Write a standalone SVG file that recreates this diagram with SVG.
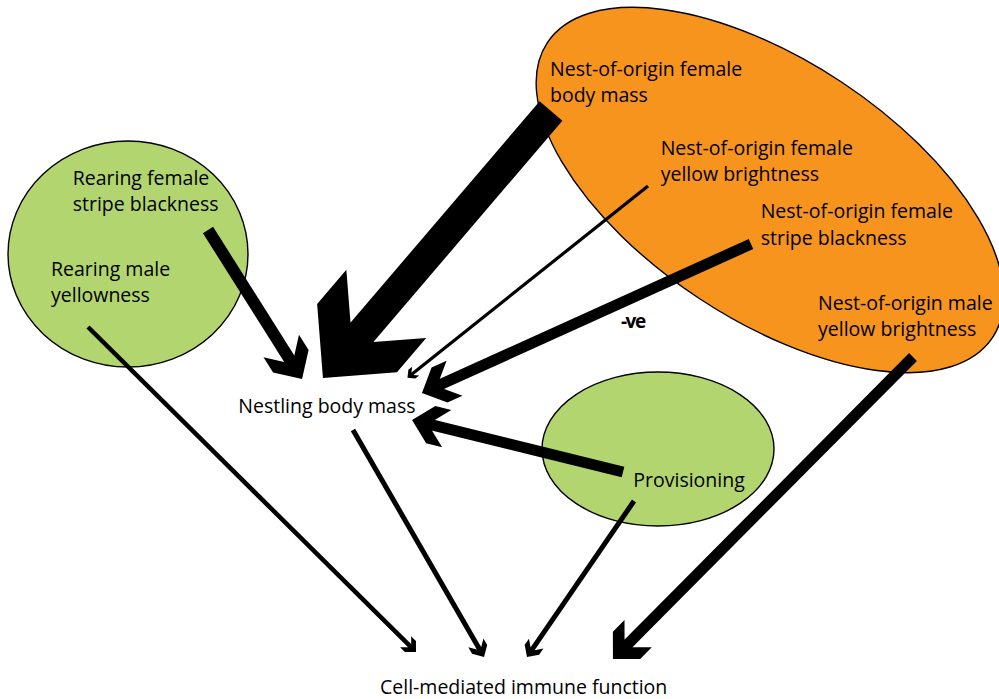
<svg xmlns="http://www.w3.org/2000/svg" width="999" height="699" viewBox="0 0 999 699">
<style>
.bg{fill:#ffffff}
.green{fill:#b3d56f;stroke:#000;stroke-width:1.4}
.orange{fill:#f7941e;stroke:#000;stroke-width:1.4}
.lbl{font-family:"Open Sans","Liberation Sans",sans-serif;font-size:19.5px;fill:#000}
.neg{font-family:"Open Sans","Liberation Sans",sans-serif;font-size:19px;font-weight:bold;fill:#000;letter-spacing:-1.5px}
.arr{fill:none;stroke:#000;stroke-linecap:butt;marker-end:url(#ah)}
</style>
<defs>
<marker id="ah" markerUnits="strokeWidth" orient="auto" refX="1.4" refY="0" markerWidth="4" markerHeight="4" overflow="visible">
<path d="M3.25,0 L1.5,-1.75 L0,-1.75 L1.25,-0.5 L1.25,0.5 L0,1.75 L1.5,1.75 Z" fill="#000"/>
</marker>
</defs>
<rect class="bg" x="0" y="0" width="999" height="699"/>
<g id="node-rearing">
<ellipse class="green" cx="128" cy="254" rx="120" ry="113"/>
</g>
<g id="node-nest-of-origin">
<ellipse class="orange" cx="770" cy="190" rx="267" ry="129.5" transform="rotate(33.5 770 190)"/>
</g>
<g id="node-provisioning">
<ellipse class="green" cx="658" cy="449" rx="116" ry="77"/>
</g>
<g id="connectors">
<line class="arr" style="stroke-width:30" x1="551" y1="111" x2="359.0" y2="335.8"/>
<line class="arr" style="stroke-width:12" x1="208" y1="230" x2="290.2" y2="360.2"/>
<line class="arr" style="stroke-width:3.2" x1="648" y1="186" x2="412.1" y2="374.0"/>
<line class="arr" style="stroke-width:11" x1="751" y1="244" x2="440.5" y2="384.6"/>
<line class="arr" style="stroke-width:11" x1="623" y1="472" x2="431.8" y2="424.9"/>
<line class="arr" style="stroke-width:11" x1="913" y1="357" x2="627.3" y2="644.6"/>
<line class="arr" style="stroke-width:4.5" x1="88" y1="327" x2="410.1" y2="646.2"/>
<line class="arr" style="stroke-width:5" x1="353" y1="430" x2="479.4" y2="649.0"/>
<line class="arr" style="stroke-width:5" x1="634" y1="501" x2="532.2" y2="649.4"/>
<text class="neg" x="621" y="328">-ve</text>
</g>
<g id="label-rearing-female">
<text class="lbl" x="72.7" y="185">Rearing female</text>
<text class="lbl" x="72.7" y="210.7">stripe blackness</text>
</g>
<g id="label-rearing-male">
<text class="lbl" x="51" y="276">Rearing male</text>
<text class="lbl" x="51" y="301.7">yellowness</text>
</g>
<g id="label-nest-female-mass">
<text class="lbl" x="550" y="76">Nest-of-origin female</text>
<text class="lbl" x="550" y="101.5">body mass</text>
</g>
<g id="label-nest-female-yellow">
<text class="lbl" x="660.7" y="155">Nest-of-origin female</text>
<text class="lbl" x="660.7" y="180.5">yellow brightness</text>
</g>
<g id="label-nest-female-stripe">
<text class="lbl" x="760.7" y="218.3">Nest-of-origin female</text>
<text class="lbl" x="760.7" y="244.5">stripe blackness</text>
</g>
<g id="label-nest-male-yellow">
<text class="lbl" x="818" y="310">Nest-of-origin male</text>
<text class="lbl" x="818" y="335.5">yellow brightness</text>
</g>
<g id="node-nestling">
<text class="lbl" x="238.3" y="413.3">Nestling body mass</text>
</g>
<g id="label-provisioning">
<text class="lbl" x="633.3" y="487.3">Provisioning</text>
</g>
<g id="node-immune">
<text class="lbl" x="380" y="694">Cell-mediated immune function</text>
</g>
</svg>
